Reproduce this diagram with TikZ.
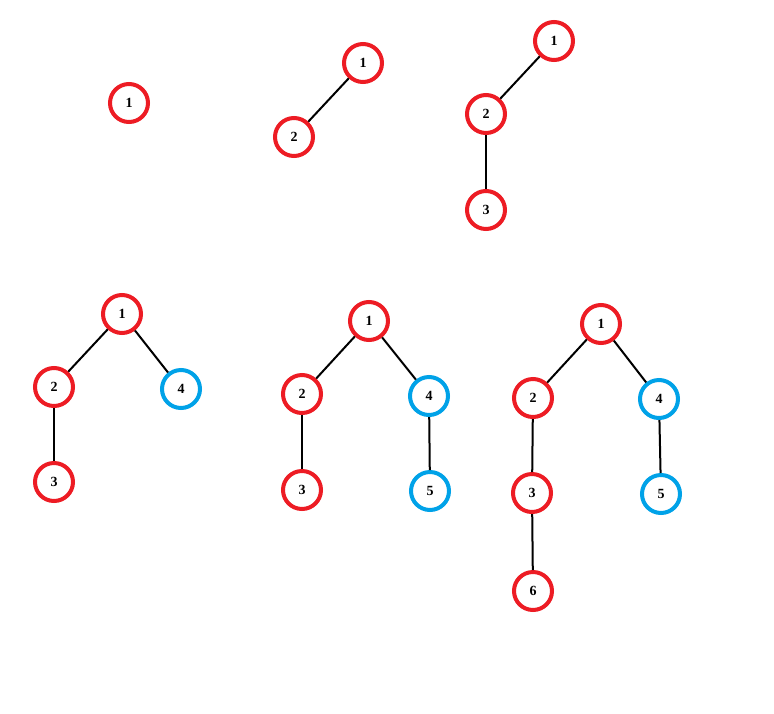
\documentclass[tikz,border=0pt]{standalone}
\usepackage{fontspec}
\setmainfont{Liberation Serif}
\definecolor{pred}{HTML}{ED1C24}
\definecolor{pblue}{HTML}{00A2E8}
\tikzset{
  vtx/.style={circle, draw=pred, line width=4pt, minimum size=38pt, inner sep=0pt,
    font=\fontsize{14}{14}\selectfont\bfseries},
  bvtx/.style={vtx, draw=pblue},
  edge/.style={draw=black, line width=2pt}
}
\begin{document}
\begin{tikzpicture}[x=1pt,y=-1pt]
\path[use as bounding box, fill=white] (0,0) rectangle (774,713);
% panel 1
\node[vtx] (a1) at (129,103) {1};
% panel 2
\node[vtx] (b1) at (363,63) {1};
\node[vtx] (b2) at (294,137) {2};
\draw[edge] (b1) -- (b2);
% panel 3
\node[vtx] (c1) at (554,41) {1};
\node[vtx] (c2) at (486,114) {2};
\node[vtx] (c3) at (486,210) {3};
\draw[edge] (c1) -- (c2);
\draw[edge] (c2) -- (c3);
% panel 4
\node[vtx] (d1) at (122,314) {1};
\node[vtx] (d2) at (54,387) {2};
\node[vtx] (d3) at (54,482) {3};
\node[bvtx] (d4) at (181,389) {4};
\draw[edge] (d1) -- (d2);
\draw[edge] (d2) -- (d3);
\draw[edge] (d1) -- (d4);
% panel 5
\node[vtx] (e1) at (369,321) {1};
\node[vtx] (e2) at (302,394) {2};
\node[vtx] (e3) at (302,490) {3};
\node[bvtx] (e4) at (429,396) {4};
\node[bvtx] (e5) at (430,491) {5};
\draw[edge] (e1) -- (e2);
\draw[edge] (e2) -- (e3);
\draw[edge] (e1) -- (e4);
\draw[edge] (e4) -- (e5);
% panel 6
\node[vtx] (f1) at (601,324) {1};
\node[vtx] (f2) at (533,398) {2};
\node[vtx] (f3) at (532,493) {3};
\node[bvtx] (f4) at (659,399) {4};
\node[bvtx] (f5) at (661,494) {5};
\node[vtx] (f6) at (533,591) {6};
\draw[edge] (f1) -- (f2);
\draw[edge] (f2) -- (f3);
\draw[edge] (f3) -- (f6);
\draw[edge] (f1) -- (f4);
\draw[edge] (f4) -- (f5);
\end{tikzpicture}
\end{document}
